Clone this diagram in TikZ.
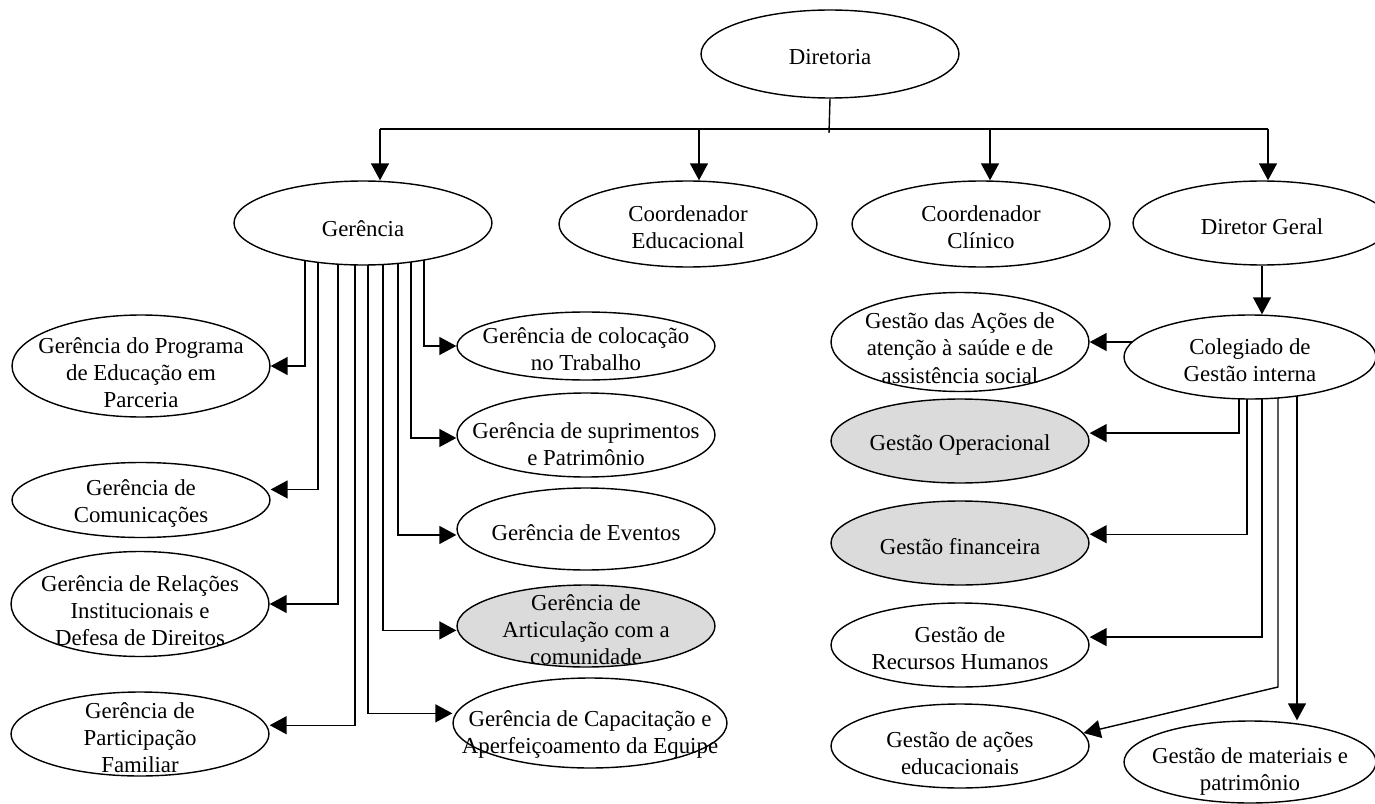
\documentclass[tikz,border=0pt]{standalone}
\usepackage{fontspec}
\setmainfont{Liberation Serif}
\usetikzlibrary{calc, arrows.meta, shapes.geometric, backgrounds}

\begin{document}
\begin{tikzpicture}[x=0.02cm, y=-0.02cm,
  oval/.style={draw, ellipse, line width=0.8pt, fill=white,
    minimum width=5.16cm, minimum height=1.68cm, inner sep=0pt},
  shaded/.style={oval, fill=black!14},
  lbl/.style={align=center, font=\fontsize{13}{15.4}\selectfont,
    inner sep=0pt, yshift=-2pt},
  arw/.style={-{Triangle[length=3.4mm, width=3.6mm]}, line width=0.8pt},
  bar/.style={line width=0.8pt},
]
\useasboundingbox (0,0) rectangle (1375,804);

% Top level
\node[oval, minimum height=1.76cm, label={[lbl]center:Diretoria}] (dir) at (830,54) {};
\node[oval, label={[lbl, yshift=-1.5pt]center:Gerência}] (ger) at (363,223) {};
\node[oval, minimum height=1.72cm, label={[lbl]center:Coordenador\\Educacional}] (ced) at (688,224) {};
\node[oval, minimum height=1.72cm, label={[lbl]center:Coordenador\\Clínico}] (ccl) at (981,224) {};
\node[oval, label={[lbl]center:Diretor Geral}] (dgr) at (1262,223) {};

% Gerência, left column
\node[oval, minimum height=2.04cm, label={[lbl, yshift=-1.7pt]center:Gerência do Programa\\de Educação em\\Parceria}] (gpe) at (141,366) {};
\node[oval, minimum height=1.5cm, label={[lbl]center:Gerência de\\Comunicações}] (gco) at (141,500) {};
\node[oval, minimum height=2.1cm, label={[lbl, yshift=-1.7pt]center:Gerência de Relações\\Institucionais e\\Defesa de Direitos}] (gri) at (140,604) {};
\node[oval, label={[lbl]center:Gerência de\\Participação\\Familiar}] (gpf) at (140,734) {};

% Gerência, right column
\node[oval, minimum height=1.36cm, label={[lbl]center:Gerência de colocação\\no Trabalho}] (gct) at (586,346) {};
\node[oval, label={[lbl, yshift=-3.4pt]center:Gerência de suprimentos\\e Patrimônio}] (gsp) at (586,435) {};
\node[oval, minimum height=1.64cm, label={[lbl]center:Gerência de Eventos}] (gev) at (586,529) {};
\node[shaded, minimum height=1.64cm, label={[lbl]center:Gerência de\\Articulação com a\\comunidade}] (gar) at (586,626) {};
\node[oval, minimum width=5.48cm, minimum height=1.8cm, label={[lbl, yshift=-4.5pt]center:Gerência de Capacitação e\\Aperfeiçoamento da Equipe}] (gcp) at (590,723) {};

% Colegiado and its areas
\node[oval, minimum width=5.04cm, label={[lbl]center:Colegiado de\\Gestão interna}] (col) at (1250,357) {};
\node[oval, minimum height=1.98cm, label={[lbl, yshift=-1.5pt]center:Gestão das Ações de\\atenção à saúde e de\\assistência social}] (gas) at (960,342) {};
\node[shaded, label={[lbl]center:Gestão Operacional}] (gop) at (960,441) {};
\node[shaded, label={[lbl]center:Gestão financeira}] (gfi) at (960,543) {};
\node[oval, label={[lbl]center:Gestão de\\Recursos Humanos}] (grh) at (960,645) {};
\node[oval, label={[lbl, yshift=-2.3pt]center:Gestão de ações\\educacionais}] (gae) at (960,746) {};
\node[oval, minimum width=5.04cm, minimum height=1.64cm, label={[lbl, yshift=-3.4pt]center:Gestão de materiais e\\patrimônio}] (gmp) at (1250,762) {};

% Branch points
\coordinate (hub) at (829,129);
\coordinate (tger) at (380,129);
\coordinate (tced) at (699,129);
\coordinate (tccl) at (990,129);
\coordinate (tdgr) at (1268,129);
\coordinate (kink) at (1278,687);

\begin{scope}[on background layer]
% Diretoria to the four branches
\draw[bar] (dir.south) -- ($(hub)+(0,4)$);
\draw[bar] (tger) -- (tdgr);
\draw[arw] (tger) -- (tger |- ger.north);
\draw[arw] (tced) -- (tced |- ced.north);
\draw[arw] (tccl) -- (tccl |- ccl.north);
\draw[arw] (tdgr) -- (tdgr |- dgr.north);

% Gerência fan-out
\draw[arw] (ger.center -| 305,0) |- (gpe.east);
\draw[arw] (ger.center -| 318,0) |- ([yshift=6pt]gco.east);
\draw[arw] (ger.center -| 338,0) |- (gri.east);
\draw[arw] (ger.center -| 355,0) |- ([yshift=5pt]gpf.east);
\draw[arw] (ger.center -| 368,0) |- ([yshift=5.5pt]gcp.west);
\draw[arw] (ger.center -| 383,0) |- ([yshift=-2.5pt]gar.west);
\draw[arw] (ger.center -| 398,0) |- ([yshift=-3.4pt]gev.west);
\draw[arw] (ger.center -| 411,0) |- ([yshift=-1.7pt]gsp.west);
\draw[arw] (ger.center -| 424,0) |- (gct.west);

% Colegiado fan-out
\draw[arw] (dgr.south) -- (dgr.south |- col.north);
\draw[arw] (col.center |- gas.east) -- (gas.east);
\draw[arw] (col.center -| 1239,0) |- ([yshift=4.5pt]gop.east);
\draw[arw] (col.center -| 1247,0) |- ([yshift=5pt]gfi.east);
\draw[arw] (col.center -| 1262,0) |- ([yshift=4.5pt]grh.east);
\draw[arw] (col.center -| kink) -- (kink) -- (gae.6);
\draw[arw] (col.center -| 1297,0) -- (1297,0 |- gmp.north);
\end{scope}
\end{tikzpicture}
\end{document}
